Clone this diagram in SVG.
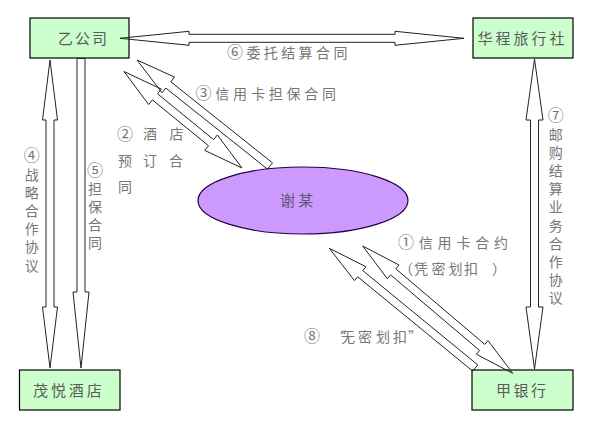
<svg xmlns="http://www.w3.org/2000/svg" width="596" height="427" viewBox="0 0 596 427">
<style>
.box{fill:#ccffcc;stroke:#000;stroke-width:1.2}
.ell{fill:#cc99ff;stroke:#220044;stroke-width:1.2}
.arr{fill:none;stroke:#222;stroke-width:1;stroke-linejoin:miter}
.nt{font-family:"Noto Sans CJK SC","Noto Sans CJK JP",sans-serif;font-size:15px;fill:#5a5a5a}
.lb{font-family:"Noto Sans CJK SC","Noto Sans CJK JP",sans-serif;font-size:14px;fill:#777}
.vt{font-family:"Noto Sans CJK SC","Noto Sans CJK JP",sans-serif;font-size:14px;fill:#777;writing-mode:vertical-rl}
.cn{font-size:16px}
</style>
<rect width="596" height="427" fill="#fff"/>
<g id="node-yi">
<rect class="box" x="30" y="18" width="99" height="40"/>
<text class="nt" x="58" y="43.5" letter-spacing="2">乙公司</text>
</g>
<g id="node-huacheng">
<rect class="box" x="473" y="18" width="100" height="40"/>
<text class="nt" x="477.5" y="43.5" letter-spacing="3">华程旅行社</text>
</g>
<g id="node-maoyue">
<rect class="box" x="19.5" y="370" width="100.5" height="40"/>
<text class="nt" x="33" y="395.5" letter-spacing="2.9">茂悦酒店</text>
</g>
<g id="node-jia">
<rect class="box" x="472" y="370" width="101" height="40"/>
<text class="nt" x="496" y="395.5" letter-spacing="2.5">甲银行</text>
</g>
<g id="node-xie">
<ellipse class="ell" cx="303" cy="200.5" rx="105" ry="33.5"/>
<text class="nt" x="280" y="206" letter-spacing="3.3" style="fill:#665577">谢某</text>
</g>
<g id="connectors">
<polygon class="arr" points="120,38.3 189,31.3 189,34.3 395,34.3 395,31.3 464,38.3 395,45.3 395,42.3 189,42.3 189,45.3"/>
<polygon class="arr" points="50,60 57.5,120 54,120 54,307 57.5,307 50,368 42.5,307 46,307 46,120 42.5,120"/>
<polygon class="arr" points="77,58.5 85,58.5 85,292 89,292 81,368 73,292 77,292"/>
<polygon class="arr" points="534.5,59 543,120 538.5,120 538.5,307 543,307 534.5,369 526,307 530.5,307 530.5,120 526,120"/>
<polygon class="arr" points="137,60 174.51,77.11 170.77,81.8 272.49,162.87 267.51,169.13 165.79,88.06 162.05,92.75"/>
<polygon class="arr" points="124,71.5 161.29,89.08 157.49,93.72 213.57,139.58 217.37,134.94 242,168 204.71,150.42 208.51,145.78 152.43,99.92 148.63,104.56"/>
<polygon class="arr" points="329.3,248.3 365.93,266.71 362.76,270.58 477.74,364.91 472.66,371.09 357.68,276.76 354.51,280.63"/>
<polygon class="arr" points="362.7,246 399.02,265.02 395.79,268.83 484.79,344.37 488.02,340.56 512.7,373.3 476.38,354.28 479.61,350.47 390.61,274.93 387.38,278.74"/>
</g>
<g id="labels">
<text class="lb" x="227" y="57.5" letter-spacing="3.4"><tspan class="cn">⑥</tspan>委托结算合同</text>
<text class="lb" x="195.5" y="99" letter-spacing="3.8"><tspan class="cn">③</tspan>信用卡担保合同</text>
<text class="lb" x="117" y="139.5"><tspan class="cn">②</tspan></text>
<text class="lb" x="143" y="139">酒</text>
<text class="lb" x="169.5" y="139">店</text>
<text class="lb" x="118" y="166">预</text>
<text class="lb" x="143" y="166">订</text>
<text class="lb" x="169" y="166">合</text>
<text class="lb" x="118" y="192">同</text>
<text class="lb" x="398" y="247.5" letter-spacing="4.8"><tspan class="cn">①</tspan>信用卡合约</text>
<text class="lb" x="399 414 431.5 448.5 464 492" y="274">（凭密划扣）</text>
<text class="lb" x="304 332 341 358 376 393 408" y="341.5"><tspan class="cn">⑧</tspan>“无密划扣”</text>
<text class="vt" x="31.7" y="147" letter-spacing="4.2"><tspan class="cn">④</tspan>战略合作协议</text>
<text class="vt" x="95" y="162" letter-spacing="4"><tspan class="cn">⑤</tspan>担保合同</text>
<text class="vt" x="555.7" y="107" letter-spacing="4.2"><tspan class="cn">⑦</tspan>邮购结算业务合作协议</text>
</g>
</svg>
